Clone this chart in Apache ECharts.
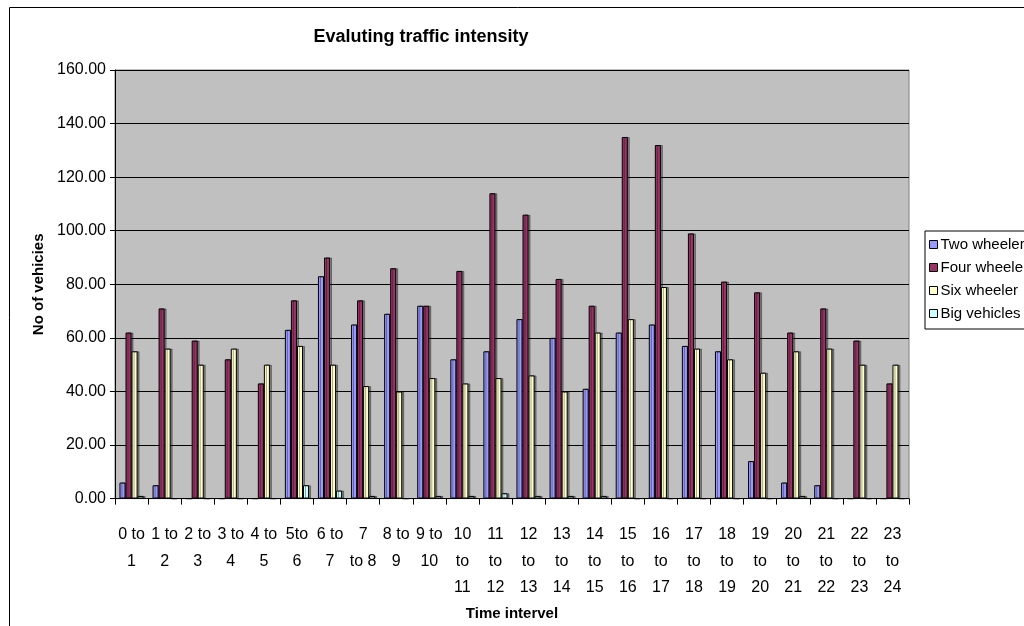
<!DOCTYPE html>
<html>
<head>
<meta charset="utf-8">
<script src="https://cdn.jsdelivr.net/npm/echarts@6/dist/echarts.min.js"></script>
<style>
html,body{margin:0;padding:0;background:#fff;}
#c{width:1024px;height:626px;}
</style>
</head>
<body>
<div id="c"></div>
<script>
var categories = ["0 to\n1","1 to\n2","2 to\n3","3 to\n4","4 to\n5","5to\n6","6 to\n7","7\nto 8","8 to\n9","9 to\n10",
  "10\nto\n11","11\nto\n12","12\nto\n13","13\nto\n14","14\nto\n15","15\nto\n16","16\nto\n17","17\nto\n18","18\nto\n19","19\nto\n20",
  "20\nto\n21","21\nto\n22","22\nto\n23","23\nto\n24"];
var twoWheeler  = [6,5,0,0,0,63,83,65,69,72,52,55,67,60,41,62,65,57,55,14,6,5,0,0];
var fourWheeler = [62,71,59,52,43,74,90,74,86,72,85,114,106,82,72,135,132,99,81,77,62,71,59,43];
var sixWheeler  = [55,56,50,56,50,57,50,42,40,45,43,45,46,40,62,67,79,56,52,47,55,56,50,50];
var bigVehicles = [1,0,0,0,0,5,3,1,0,1,1,2,1,1,1,0,0,0,0,0,1,0,0,0];
var seriesNames = ["Two wheeler","Four wheeler","Six wheeler","Big vehicles"];
var yTicks = {min:0, max:160, interval:20};

var FONT = '"Liberation Sans", Arial, sans-serif';
var colors = ['#9999FF','#993366','#FFFFCC','#CCFFFF'];
var data = [twoWheeler, fourWheeler, sixWheeler, bigVehicles];

var chart = echarts.init(document.getElementById('c'), null, {renderer:'canvas'});
var series = data.map(function(d,i){
  return {
    name: seriesNames[i], type:'bar', data:d,
    barGap:'0%', barCategoryGap:'27%',
    itemStyle:{color:colors[i], borderColor:'#000', borderWidth:1,
      shadowColor:'rgba(0,0,0,0.35)', shadowOffsetX:2, shadowOffsetY:0, shadowBlur:0},
    emphasis:{disabled:true}
  };
});
chart.setOption({
  animation:false,
  backgroundColor:'#fff',
  textStyle:{fontFamily:FONT},
  title:{text:'Evaluting traffic intensity', left:416, top:23, textAlign:'center',
    textStyle:{fontFamily:FONT, fontWeight:'bold', fontSize:18, color:'#000'}},
  legend:{orient:'vertical', left:925, top:231, itemWidth:8, itemHeight:8, itemGap:8,
    padding:[6,10,8,4], borderColor:'#000', borderWidth:1, backgroundColor:'#fff',
    icon:'rect', textStyle:{fontFamily:FONT, fontSize:15, color:'#000', padding:[0,0,0,-2]},
    itemStyle:{borderColor:'#000', borderWidth:1}},
  graphic:[{type:'rect', shape:{x:9.5, y:7.5, width:1100, height:700},
    style:{fill:'none', stroke:'#000', lineWidth:1}, z:-1}],
  grid:{left:115, top:70, width:794, height:433, show:true, backgroundColor:'#C0C0C0',
    borderColor:'#808080', borderWidth:1},
  xAxis:{type:'category', data:categories,
    name:'Time intervel', nameLocation:'middle', nameGap:105,
    nameTextStyle:{fontFamily:FONT, fontWeight:'bold', fontSize:15, color:'#000'},
    axisLine:{lineStyle:{color:'#000', width:1}},
    axisTick:{show:true, alignWithLabel:false, length:6, lineStyle:{color:'#000'}},
    axisLabel:{fontFamily:FONT, fontSize:16, color:'#000', lineHeight:26.5, margin:23, interval:0},
    splitLine:{show:false}},
  yAxis:{type:'value', min:yTicks.min, max:yTicks.max, interval:yTicks.interval,
    name:'No of vehicies', nameLocation:'middle', nameGap:64, nameRotate:90,
    nameTextStyle:{fontFamily:FONT, fontWeight:'bold', fontSize:15, color:'#000'},
    axisLine:{show:true, lineStyle:{color:'#000'}},
    axisTick:{show:true, length:5, lineStyle:{color:'#000'}},
    axisLabel:{fontFamily:FONT, fontSize:16, color:'#000', margin:9,
      formatter:function(v){return v.toFixed(2);}},
    splitLine:{show:true, lineStyle:{color:'#000', width:1}}},
  series:series
});
</script>
</body>
</html>
